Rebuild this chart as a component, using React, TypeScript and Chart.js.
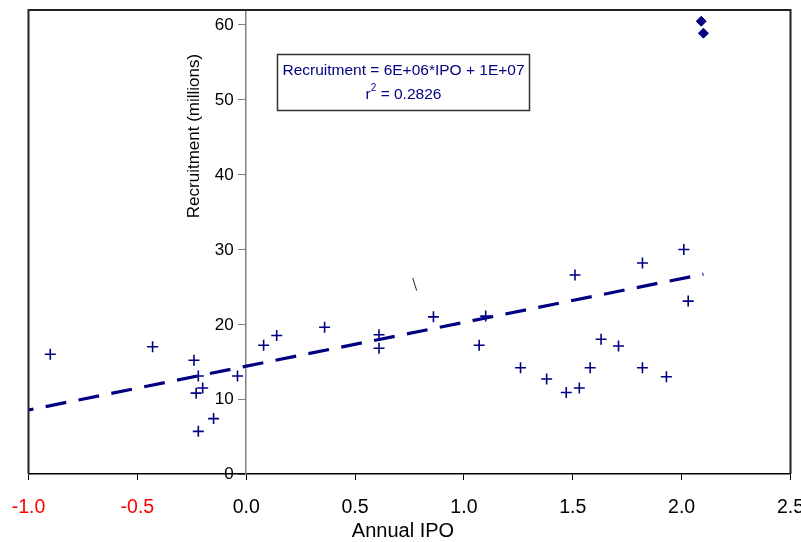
import React, { useEffect, useRef } from 'react';
import { Chart, registerables } from 'chart.js';
Chart.register(...registerables);

// Annual IPO (x) vs recruitment in millions (y)
const ipoX = [-0.90, -0.43, -0.24, -0.22, -0.23, -0.20, -0.22, -0.15, -0.04, 0.08, 0.14, 0.36, 0.61, 0.61, 0.86, 1.07, 1.10, 1.26, 1.38, 1.47, 1.53, 1.51, 1.58, 1.63, 1.71, 1.82, 1.82, 1.93, 2.01, 2.03];
const recruitY = [16.0, 17.0, 15.2, 13.1, 10.8, 11.5, 5.7, 7.4, 13.1, 17.2, 18.5, 19.6, 18.6, 16.8, 21.0, 17.2, 21.1, 14.2, 12.7, 10.9, 11.5, 26.6, 14.2, 18.0, 17.1, 28.2, 14.2, 13.0, 30.0, 23.1];
const outlierX = [2.09, 2.10];
const outlierY = [60.5, 58.9];
const trendX = [-1.0, 2.1];
const trendY = [8.55, 26.7];
const strayX = [0.765, 0.783];
const strayY = [26.2, 24.5];
const xTickValues = [-1.0, -0.5, 0, 0.5, 1.0, 1.5, 2.0, 2.5];
const yTickValues = [0, 10, 20, 30, 40, 50, 60];
const equationText = 'Recruitment = 6E+06*IPO + 1E+07';
const r2Text = '0.2826';
const xTitle = 'Annual IPO';
const yTitle = 'Recruitment (millions)';

const NAVY = '#000080';
const FONT = "'Liberation Sans', Arial, sans-serif";

const pts = (xs: number[], ys: number[]) => xs.map((x, i) => ({ x, y: ys[i] }));

const overlayPlugin = {
  id: 'overlay',
  afterDatasetsDraw(chart: any) {
    const { ctx } = chart;
    const xs = chart.scales.x;
    const ys = chart.scales.y;
    // y tick labels, left of the axis at x = 0
    ctx.save();
    ctx.fillStyle = '#000';
    ctx.font = `17px ${FONT}`;
    ctx.textAlign = 'right';
    ctx.textBaseline = 'middle';
    const ax = xs.getPixelForValue(0);
    yTickValues.forEach((v) => {
      ctx.fillText(String(v), ax - 12.5, ys.getPixelForValue(v) + 0.5);
    });
    ctx.restore();

    // y-axis title
    ctx.save();
    ctx.fillStyle = '#000';
    ctx.font = `17px ${FONT}`;
    ctx.textAlign = 'center';
    ctx.textBaseline = 'middle';
    ctx.translate(194, 136);
    ctx.rotate(-Math.PI / 2);
    ctx.fillText(yTitle, 0, 0);
    ctx.restore();

    // x-axis title
    ctx.save();
    ctx.fillStyle = '#000';
    ctx.font = `20px ${FONT}`;
    ctx.textAlign = 'center';
    ctx.textBaseline = 'middle';
    ctx.fillText(xTitle, 403, 531);
    ctx.restore();

    // equation box
    ctx.save();
    const bx = 277.5, by = 54.5, bw = 252, bh = 56;
    ctx.fillStyle = '#fff';
    ctx.fillRect(bx, by, bw, bh);
    ctx.strokeStyle = '#333';
    ctx.lineWidth = 1.5;
    ctx.strokeRect(bx, by, bw, bh);
    ctx.fillStyle = NAVY;
    ctx.font = `15.5px ${FONT}`;
    ctx.textAlign = 'center';
    ctx.textBaseline = 'middle';
    const cx = bx + bw / 2;
    ctx.fillText(equationText, cx, by + 16.5);
    const tail = ' = ' + r2Text;
    const wR = ctx.measureText('r').width;
    ctx.font = `10px ${FONT}`;
    const wS = ctx.measureText('2').width;
    ctx.font = `15.5px ${FONT}`;
    const wT = ctx.measureText(tail).width;
    const sx = cx - (wR + wS + wT) / 2;
    ctx.textAlign = 'left';
    ctx.fillText('r', sx, by + 40);
    ctx.font = `10px ${FONT}`;
    ctx.fillText('2', sx + wR, by + 34);
    ctx.font = `15.5px ${FONT}`;
    ctx.fillText(tail, sx + wR + wS, by + 40);
    ctx.restore();
  },
  afterDraw(chart: any) {
    const { ctx, chartArea } = chart;
    ctx.save();
    ctx.strokeStyle = '#222';
    ctx.lineWidth = 2;
    ctx.beginPath();
    ctx.moveTo(chartArea.left, chartArea.bottom);
    ctx.lineTo(chartArea.left, chartArea.top);
    ctx.lineTo(chartArea.right, chartArea.top);
    ctx.lineTo(chartArea.right, chartArea.bottom);
    ctx.stroke();
    ctx.restore();
  },
};

export default function App() {
  const ref = useRef<HTMLCanvasElement>(null);
  useEffect(() => {
    const canvas = ref.current!;
    const chart = new Chart(canvas, {
      type: 'scatter',
      data: {
        datasets: [
          {
            label: 'Recruitment',
            data: pts(ipoX, recruitY),
            pointStyle: 'cross',
            pointRadius: 5.5,
            pointBorderWidth: 1.6,
            borderColor: NAVY,
            backgroundColor: NAVY,
          },
          {
            label: 'Outliers',
            data: pts(outlierX, outlierY),
            pointStyle: 'rectRot',
            pointRadius: 5,
            pointBorderWidth: 1,
            borderColor: NAVY,
            backgroundColor: NAVY,
          },
          {
            label: 'Trend',
            type: 'line',
            data: pts(trendX, trendY),
            showLine: true,
            pointRadius: 0,
            borderColor: NAVY,
            borderWidth: 3.2,
            borderDash: [21, 12.5],
            borderDashOffset: 16,
            fill: false,
          } as any,
          {
            label: 'Stray',
            type: 'line',
            data: pts(strayX, strayY),
            showLine: true,
            pointRadius: 0,
            borderColor: '#222',
            borderWidth: 1,
            fill: false,
          } as any,
        ],
      },
      options: {
        responsive: false,
        animation: false,
        layout: { padding: { left: 28.5, top: 10, right: 10.5, bottom: 0 } },
        plugins: { legend: { display: false }, tooltip: { enabled: false } },
        scales: {
          x: {
            type: 'linear',
            position: 'bottom',
            min: -1,
            max: 2.5,
            afterBuildTicks: (scale: any) => {
              scale.ticks = xTickValues.map((v) => ({ value: v }));
            },
            afterFit: (scale: any) => {
              scale.height = 68;
              scale.paddingLeft = 0;
              scale.paddingRight = 0;
            },
            grid: { drawOnChartArea: false, drawTicks: true, tickLength: 6, color: '#000' },
            border: { color: '#000', width: 1.5 },
            ticks: {
              padding: 16,
              font: { family: FONT, size: 19.5 },
              color: (c: any) => (c.tick && c.tick.value < 0 ? '#ff0000' : '#000'),
              callback: (v: any) => Number(v).toFixed(1),
              maxRotation: 0,
            },
            title: { display: false },
          },
          y: {
            type: 'linear',
            position: { x: 0 } as any,
            min: 0,
            max: 62,
            afterBuildTicks: (scale: any) => {
              scale.ticks = yTickValues.map((v) => ({ value: v }));
            },
            grid: { drawOnChartArea: false, drawTicks: true, tickLength: 7, color: '#808080' },
            border: { color: '#808080', width: 1.5 },
            ticks: { display: false },
          },
        },
      },
      plugins: [overlayPlugin],
    });
    return () => chart.destroy();
  }, []);
  return (
    <div style={{ position: 'fixed', left: 0, top: 0, width: 801, height: 542, background: '#fff' }}>
      <canvas ref={ref} width={801} height={542} />
    </div>
  );
}
